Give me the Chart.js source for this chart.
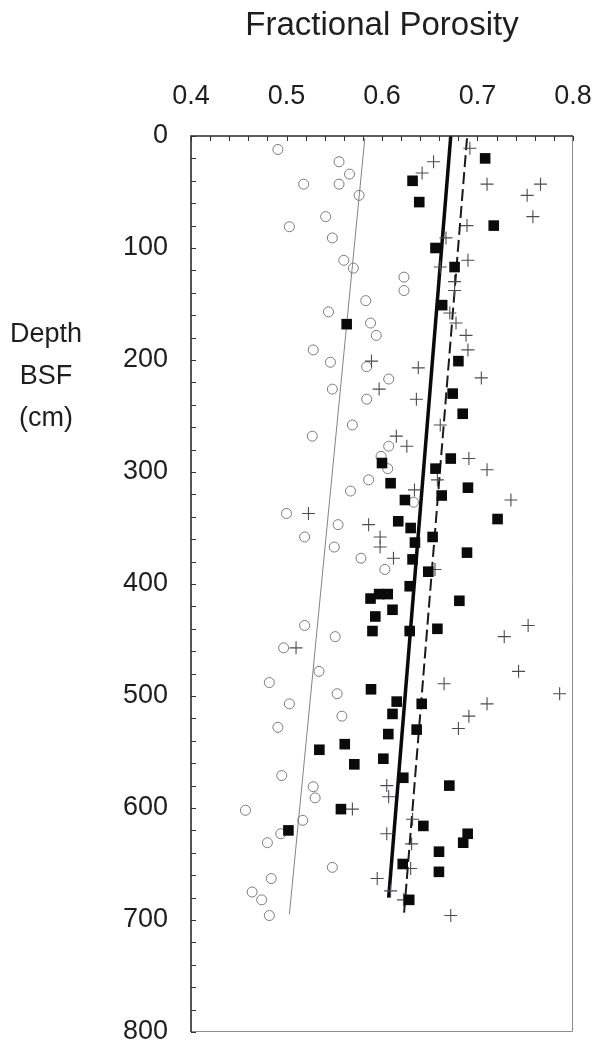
<!DOCTYPE html>
<html>
<head>
<meta charset="utf-8">
<script src="https://cdn.jsdelivr.net/npm/chart.js@4.4.1/dist/chart.umd.min.js"></script>
<style>
  html, body { margin: 0; padding: 0; background: #ffffff; }
  canvas { display: block; }
</style>
</head>
<body>
<canvas id="porosityChart" width="594" height="1044"></canvas>
<script>
// Tick labels
const porosityTicks = [0.4, 0.5, 0.6, 0.7, 0.8];
const depthTicks = [0, 100, 200, 300, 400, 500, 600, 700, 800];

// Open circles
const circlePorosity = [0.491, 0.555, 0.566, 0.518, 0.555, 0.576, 0.541, 0.503, 0.548, 0.560,
  0.570, 0.623, 0.623, 0.583, 0.544, 0.588, 0.594, 0.528, 0.546, 0.584,
  0.607, 0.548, 0.584, 0.569, 0.527, 0.607, 0.599, 0.606, 0.586, 0.567,
  0.633, 0.500, 0.554, 0.519, 0.550, 0.578, 0.603, 0.519, 0.551, 0.497,
  0.534, 0.482, 0.553, 0.503, 0.558, 0.491, 0.495, 0.528, 0.530, 0.457,
  0.517, 0.494, 0.480, 0.548, 0.484, 0.464, 0.474, 0.482];
const circleDepth = [12, 23, 34, 43, 43, 53, 72, 81, 91, 111,
  118, 126, 138, 147, 157, 167, 178, 191, 202, 206,
  217, 226, 235, 258, 268, 277, 286, 297, 307, 317,
  327, 337, 347, 358, 367, 377, 387, 437, 447, 457,
  478, 488, 498, 507, 518, 528, 571, 581, 591, 602,
  611, 623, 631, 653, 663, 675, 682, 696];

// Filled squares
const squarePorosity = [0.708, 0.632, 0.639, 0.717, 0.656, 0.676, 0.663, 0.563, 0.680, 0.674,
  0.6845, 0.672, 0.600, 0.656, 0.609, 0.690, 0.6625, 0.624, 0.721, 0.617,
  0.630, 0.653, 0.6345, 0.689, 0.632, 0.6485, 0.629, 0.597, 0.606, 0.588,
  0.681, 0.611, 0.593, 0.658, 0.629, 0.590, 0.5885, 0.6154, 0.6416, 0.611,
  0.6363, 0.6066, 0.561, 0.5344, 0.6014, 0.571, 0.6223, 0.6705, 0.557, 0.6433,
  0.502, 0.6897, 0.685, 0.6597, 0.6217, 0.6596, 0.6285];
const squareDepth = [20, 40, 59, 80, 100, 117, 151, 168, 201, 230,
  248, 288, 292, 297, 310, 314, 321, 325, 342, 344,
  350, 358, 363, 372, 378, 389, 402, 409, 409, 413,
  415, 423, 429, 440, 442, 442, 494, 505, 507, 516,
  530, 534, 543, 548, 556, 561, 573, 580, 601, 616,
  620, 623, 631, 639, 650, 657, 682];

// Crosses
const crossPorosity = [0.692, 0.654, 0.642, 0.710, 0.766, 0.752, 0.758, 0.689, 0.667, 0.690,
  0.661, 0.676, 0.676, 0.671, 0.6775, 0.688, 0.690, 0.589, 0.638, 0.704,
  0.597, 0.636, 0.661, 0.615, 0.626, 0.691, 0.710, 0.658, 0.634, 0.735,
  0.523, 0.586, 0.598, 0.598, 0.612, 0.6555, 0.753, 0.728, 0.510, 0.743,
  0.665, 0.786, 0.710, 0.691, 0.680, 0.605, 0.607, 0.569, 0.632, 0.605,
  0.631, 0.630, 0.595, 0.609, 0.6225, 0.672];
const crossDepth = [11, 23, 33, 43, 43, 53, 72, 80, 91, 111,
  117, 130, 138, 158, 167, 178, 191, 201, 207, 216,
  226, 235, 258, 268, 277, 288, 298, 307, 316, 325,
  337, 347, 358, 367, 377, 387, 437, 447, 457, 478,
  489, 498, 507, 518, 529, 580, 590, 601, 610, 623,
  632, 654, 663, 674, 682, 696];

// Trend lines (end points)
const circleFitPorosity = [0.582, 0.503];
const circleFitDepth = [2, 695];
const squareFitPorosity = [0.672, 0.607];
const squareFitDepth = [0, 680];
const crossFitPorosity = [0.689, 0.623];
const crossFitDepth = [2, 695];

const porosityMinorStep = 0.02;
const depthMinorStep = 20;

const FONT = '"Liberation Sans", Arial, Helvetica, sans-serif';
const TEXT = '#1e1e1e';

function pairs(xs, ys) {
  return xs.map((v, i) => ({ x: v, y: ys[i] }));
}

const frameAndLabels = {
  id: 'frameAndLabels',
  afterDraw(chart) {
    const { ctx, chartArea: a, scales: { x, y } } = chart;
    ctx.save();

    // right and bottom frame edges
    ctx.strokeStyle = '#8c8c8c';
    ctx.lineWidth = 1;
    ctx.beginPath();
    ctx.moveTo(a.right - 0.5, a.top);
    ctx.lineTo(a.right - 0.5, a.bottom - 0.5);
    ctx.lineTo(a.left, a.bottom - 0.5);
    ctx.stroke();

    // left and top frame edges
    ctx.strokeStyle = '#2a2a2a';
    ctx.lineWidth = 1.6;
    ctx.beginPath();
    ctx.moveTo(a.left, a.bottom);
    ctx.lineTo(a.left, a.top);
    ctx.lineTo(a.right, a.top);
    ctx.stroke();

    // inward tick marks
    ctx.strokeStyle = '#333333';
    ctx.lineWidth = 1;
    ctx.beginPath();
    for (let v = y.min; v <= y.max + 1e-9; v += depthMinorStep) {
      const py = Math.round(y.getPixelForValue(v)) + 0.5;
      ctx.moveTo(a.left, py);
      ctx.lineTo(a.left + 5, py);
    }
    const nx = Math.round((x.max - x.min) / porosityMinorStep);
    for (let i = 0; i <= nx; i++) {
      const px = Math.round(x.getPixelForValue(x.min + i * porosityMinorStep)) + 0.5;
      ctx.moveTo(px, a.top);
      ctx.lineTo(px, a.top + 5);
    }
    ctx.stroke();

    // axis titles
    ctx.fillStyle = TEXT;
    ctx.textAlign = 'center';
    ctx.textBaseline = 'middle';
    ctx.font = '33px ' + FONT;
    ctx.fillText('Fractional Porosity', (a.left + a.right) / 2, 26);
    ctx.font = '27px ' + FONT;
    ctx.fillText('Depth', 46, 335);
    ctx.fillText('BSF', 46, 377);
    ctx.fillText('(cm)', 46, 419);
    ctx.restore();
  }
};

new Chart(document.getElementById('porosityChart'), {
  type: 'scatter',
  data: {
    datasets: [
      {
        label: 'squares',
        data: pairs(squarePorosity, squareDepth),
        pointStyle: 'rect',
        pointRadius: 7.5,
        pointBackgroundColor: '#0a0a0a',
        pointBorderWidth: 0,
        borderColor: '#0a0a0a'
      },
      {
        label: 'crosses',
        data: pairs(crossPorosity, crossDepth),
        pointStyle: 'cross',
        pointRadius: 6.5,
        pointBorderColor: '#4b4b5c',
        pointBorderWidth: 1.1,
        borderColor: '#4b4b5c'
      },
      {
        label: 'circles',
        data: pairs(circlePorosity, circleDepth),
        pointStyle: 'circle',
        pointRadius: 5,
        pointBackgroundColor: 'rgba(255,255,255,0)',
        pointBorderColor: '#7a7a7a',
        pointBorderWidth: 1,
        borderColor: '#7a7a7a'
      },
      {
        label: 'circle fit',
        data: pairs(circleFitPorosity, circleFitDepth),
        showLine: true,
        pointRadius: 0,
        borderColor: '#7d8588',
        borderWidth: 1
      },
      {
        label: 'square fit',
        data: pairs(squareFitPorosity, squareFitDepth),
        showLine: true,
        pointRadius: 0,
        borderColor: '#0a0a0a',
        borderWidth: 3.5
      },
      {
        label: 'cross fit',
        data: pairs(crossFitPorosity, crossFitDepth),
        showLine: true,
        pointRadius: 0,
        borderColor: '#1a1a1a',
        borderWidth: 2,
        borderDash: [12, 5]
      }
    ]
  },
  options: {
    responsive: false,
    animation: false,
    devicePixelRatio: 1,
    layout: { padding: { left: 0, top: 0, right: 21, bottom: 12 } },
    plugins: {
      legend: { display: false },
      tooltip: { enabled: false }
    },
    scales: {
      x: {
        type: 'linear',
        position: 'top',
        min: porosityTicks[0],
        max: porosityTicks[porosityTicks.length - 1],
        afterBuildTicks: (s) => { s.ticks = porosityTicks.map(v => ({ value: v })); },
        afterFit: (s) => { s.height = 136; s.paddingLeft = 0; s.paddingRight = 0; },
        grid: { drawOnChartArea: false, drawTicks: false },
        border: { display: false },
        ticks: {
          padding: 23,
          color: TEXT,
          font: { family: FONT, size: 27 },
          callback: (v) => Number(v).toFixed(1)
        }
      },
      y: {
        type: 'linear',
        reverse: true,
        min: depthTicks[0],
        max: depthTicks[depthTicks.length - 1],
        afterBuildTicks: (s) => { s.ticks = depthTicks.map(v => ({ value: v })); },
        afterFit: (s) => { s.width = 191; s.paddingTop = 0; s.paddingBottom = 0; },
        grid: { drawOnChartArea: false, drawTicks: false },
        border: { display: false },
        ticks: {
          padding: 23,
          color: TEXT,
          font: { family: FONT, size: 27 },
          callback: (v) => String(v)
        }
      }
    }
  },
  plugins: [frameAndLabels]
});
</script>
</body>
</html>
